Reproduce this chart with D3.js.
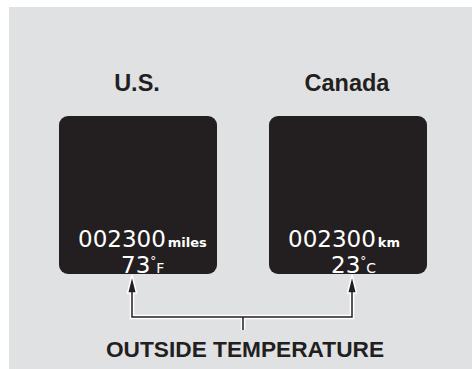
<!DOCTYPE html>
<html>
<head>
<meta charset="utf-8">
<script src="https://cdn.jsdelivr.net/npm/d3@7"></script>
<style>
  html, body { margin: 0; padding: 0; background: #fff; }
  svg { display: block; }
</style>
</head>
<body>
<svg id="chart"></svg>
<script>
// display data
const regions = ["U.S.", "Canada"];
const odometer = ["002300", "002300"];
const distUnits = ["miles", "km"];
const temps = ["73", "23"];
const tempUnits = ["F", "C"];
const caption = "OUTSIDE TEMPERATURE";

const width = 472;
const height = 369;
const boxSize = 158;
const boxTop = 116;

const svg = d3.select("#chart").attr("width", width).attr("height", height);

// grey panel
svg.append("rect")
    .attr("x", 9).attr("y", 7)
    .attr("width", width - 9).attr("height", height - 7)
    .attr("fill", "#e0e1e3");

const x = d3.scalePoint().domain(regions).range([138, 348]);
const arrowX = d3.scalePoint().domain(regions).range([132, 352]);

const items = regions.map(function (r, i) {
    return { region: r, odo: odometer[i], unit: distUnits[i], temp: temps[i], tunit: tempUnits[i] };
});

const g = svg.selectAll("g.display")
    .data(items)
    .enter()
    .append("g")
    .attr("class", "display")
    .attr("transform", function (d) { return "translate(" + (x(d.region) - boxSize / 2) + "," + boxTop + ")"; });

// titles
svg.selectAll("text.title")
    .data(items)
    .enter()
    .append("text")
    .attr("class", "title")
    .attr("x", function (d) { return x(d.region) - 1; })
    .attr("y", 91)
    .attr("text-anchor", "middle")
    .attr("font-family", "Liberation Sans, Arial, sans-serif")
    .attr("font-weight", "bold")
    .attr("font-size", 23.5)
    .attr("fill", "#231f20")
    .text(function (d) { return d.region; });

g.append("rect")
    .attr("width", boxSize)
    .attr("height", boxSize)
    .attr("rx", 9)
    .attr("ry", 9)
    .attr("fill", "#231f20");

const odo = g.append("text")
    .attr("x", 19)
    .attr("y", 131)
    .attr("font-family", "DejaVu Sans, sans-serif")
    .attr("fill", "#fff");
odo.append("tspan").attr("font-size", 23).text(function (d) { return d.odo; });
odo.append("tspan").attr("font-size", 13).attr("font-weight", "bold").attr("dx", 2)
    .text(function (d) { return d.unit; });

const tmp = g.append("text")
    .attr("x", 62)
    .attr("y", 157)
    .attr("font-family", "DejaVu Sans, sans-serif")
    .attr("fill", "#fff");
tmp.append("tspan").attr("font-size", 23).text(function (d) { return d.temp; });
tmp.append("tspan").attr("font-size", 12).attr("dx", 0).attr("dy", -8).text("°");
tmp.append("tspan").attr("font-size", 14).attr("dx", 0).attr("dy", 8).text(function (d) { return d.tunit; });

// connector lines
const lineY = 317;
const midX = (arrowX(regions[0]) + arrowX(regions[1])) / 2 + 1;
const tipY = boxTop + boxSize + 1;
const headH = 18;

const conn = "M" + arrowX(regions[0]) + "," + (tipY + headH - 2) +
    " V" + lineY + " H" + arrowX(regions[1]) + " V" + (tipY + headH - 2) +
    " M" + midX + "," + lineY + " V" + 330;

svg.append("path").attr("d", conn)
    .attr("fill", "none").attr("stroke", "#fff").attr("stroke-width", 4.5);

svg.selectAll("path.head")
    .data(items)
    .enter()
    .append("path")
    .attr("class", "head")
    .attr("d", function (d) {
        const ax = arrowX(d.region);
        return "M" + ax + "," + tipY + " L" + (ax + 4.5) + "," + (tipY + headH) +
            " L" + (ax - 4.5) + "," + (tipY + headH) + "Z";
    })
    .attr("fill", "#231f20")
    .attr("stroke", "#fff")
    .attr("stroke-width", 1.5);

svg.append("path").attr("d", conn)
    .attr("fill", "none").attr("stroke", "#231f20").attr("stroke-width", 1.5);

svg.append("text")
    .attr("x", 245)
    .attr("y", 357)
    .attr("text-anchor", "middle")
    .attr("font-family", "Liberation Sans, Arial, sans-serif")
    .attr("font-weight", "bold")
    .attr("font-size", 22.7)
    .attr("fill", "#231f20")
    .text(caption);
</script>
</body>
</html>
